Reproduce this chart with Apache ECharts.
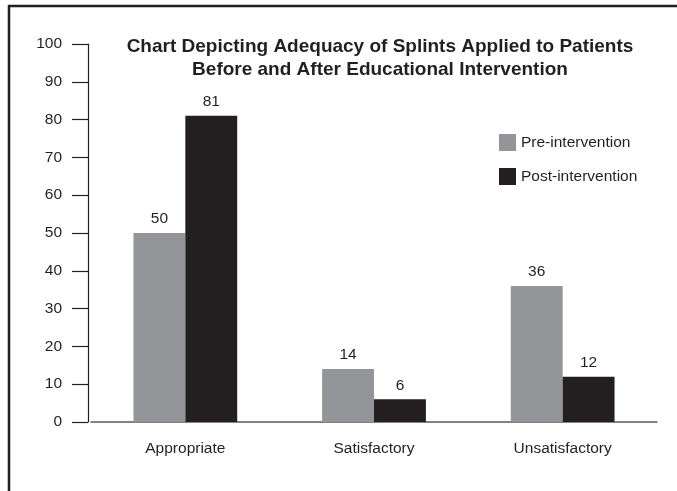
<!DOCTYPE html>
<html><head><meta charset="utf-8">
<script src="https://cdn.jsdelivr.net/npm/echarts@6/dist/echarts.min.js"></script>
<style>html,body{margin:0;padding:0;background:#fff}#c{width:677px;height:491px}</style>
</head><body><div id="c"></div>
<script>
const categories = ['Appropriate', 'Satisfactory', 'Unsatisfactory'];
const preValues = [50, 14, 36];
const postValues = [81, 6, 12];
const seriesNames = ['Pre-intervention', 'Post-intervention'];
const titleText = 'Chart Depicting Adequacy of Splints Applied to Patients\nBefore and After Educational Intervention';

const FONT = 'Liberation Sans, Arial, Helvetica, sans-serif';
const ink = '#231f20';
const chart = echarts.init(document.getElementById('c'), null, {renderer: 'canvas'});
chart.setOption({
  animation: false,
  backgroundColor: '#fff',
  title: {
    text: titleText,
    left: 380, top: 35, textAlign: 'center', padding: 0,
    textStyle: {fontFamily: FONT, fontSize: 19, fontWeight: 'bold', color: ink, lineHeight: 23.5}
  },
  legend: {
    orient: 'vertical', left: 499, top: 134, itemWidth: 17, itemHeight: 17, itemGap: 17,
    padding: 0, icon: 'rect',
    textStyle: {fontFamily: FONT, fontSize: 15.5, color: ink, padding: [0, 0, 0, 0]},
    data: seriesNames
  },
  grid: {left: 91, right: 20, top: 44, bottom: 69, containLabel: false},
  xAxis: {
    type: 'category', data: categories,
    axisLine: {lineStyle: {color: '#58595b', width: 1.5}},
    axisTick: {show: false},
    axisLabel: {fontFamily: FONT, fontSize: 15.5, color: ink, margin: 19}
  },
  yAxis: {
    type: 'value', min: 0, max: 100, interval: 10, offset: 3,
    axisLine: {show: true, lineStyle: {color: ink, width: 1.2}},
    axisTick: {show: true, length: 16, lineStyle: {color: ink, width: 1.2}},
    splitLine: {show: false},
    axisLabel: {fontFamily: FONT, fontSize: 15.5, color: ink, margin: 26}
  },
  graphic: [{
    type: 'rect', shape: {x: 9, y: 6, width: 720, height: 520},
    style: {fill: null, stroke: ink, lineWidth: 2.5}, silent: true
  }],
  series: [
    {name: seriesNames[0], type: 'bar', data: preValues, barWidth: '27.5%', barGap: '0%',
     itemStyle: {color: '#939598'},
     label: {show: true, position: 'top', distance: 6, fontFamily: FONT, fontSize: 15.5, color: ink}},
    {name: seriesNames[1], type: 'bar', data: postValues, barWidth: '27.5%', barGap: '0%',
     itemStyle: {color: '#231f20'},
     label: {show: true, position: 'top', distance: 6, fontFamily: FONT, fontSize: 15.5, color: ink}}
  ]
});
</script></body></html>
